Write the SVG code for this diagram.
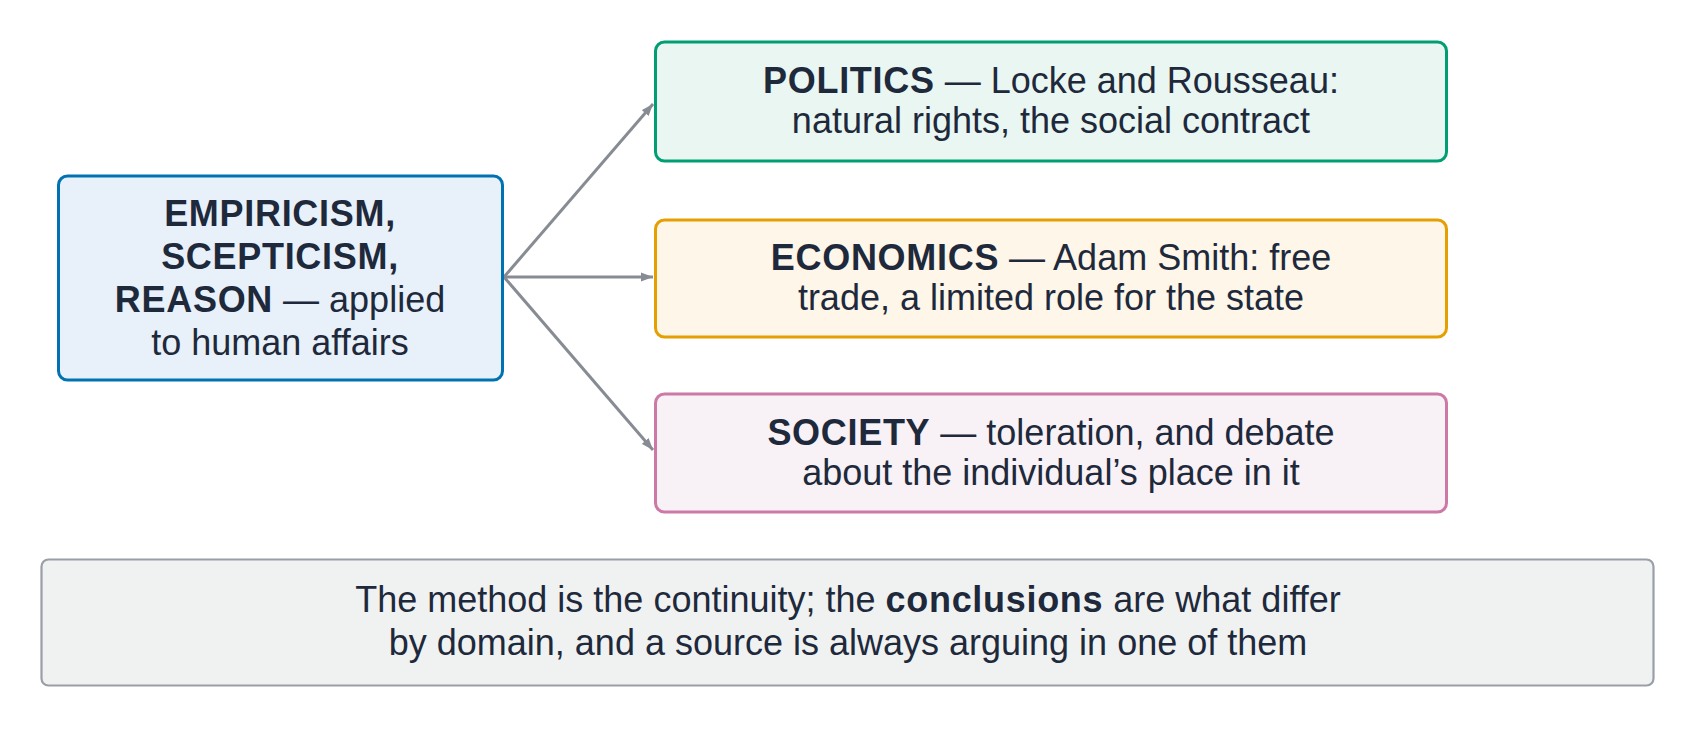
<svg xmlns="http://www.w3.org/2000/svg" width="1696" height="729" viewBox="0 0 1696 729">
<defs>
<style>
text{font-family:"Liberation Sans",Arial,sans-serif;font-size:36px;fill:#1e293b;text-anchor:middle}
.b{font-weight:bold;letter-spacing:0.7px}
.box{stroke-width:3}
.conn line{stroke:#878b93;stroke-width:3;fill:none}
</style>
<marker id="ah" viewBox="0 0 12 10" refX="12" refY="5" markerWidth="12" markerHeight="10" markerUnits="userSpaceOnUse" orient="auto">
<path d="M0,0.5 L12,5 L0,9.5 z" fill="#878b93"/>
</marker>
</defs>
<rect width="1696" height="729" fill="#ffffff"/>
<g id="connectors" class="conn">
<line x1="504" y1="277" x2="653" y2="104" marker-end="url(#ah)"/>
<line x1="504" y1="277" x2="653" y2="277" marker-end="url(#ah)"/>
<line x1="504" y1="277" x2="653" y2="450" marker-end="url(#ah)"/>
</g>
<g id="method">
<rect class="box" x="58.5" y="176" width="444" height="204" rx="9" fill="#e8f1f9" stroke="#0072b2" stroke-width="4"/>
<text x="280" y="226" class="b">EMPIRICISM,</text>
<text x="280" y="269" class="b">SCEPTICISM,</text>
<text x="280" y="312"><tspan class="b">REASON</tspan> — applied</text>
<text x="280" y="355">to human affairs</text>
</g>
<g id="politics">
<rect class="box" x="655.5" y="42" width="791" height="119" rx="9" fill="#eaf6f1" stroke="#009e73"/>
<text x="1051" y="93"><tspan class="b">POLITICS</tspan> — Locke and Rousseau:</text>
<text x="1051" y="133">natural rights, the social contract</text>
</g>
<g id="economics">
<rect class="box" x="655.5" y="220" width="791" height="117" rx="9" fill="#fdf6e9" stroke="#e69f00"/>
<text x="1051" y="270"><tspan class="b">ECONOMICS</tspan> — Adam Smith: free</text>
<text x="1051" y="310">trade, a limited role for the state</text>
</g>
<g id="society">
<rect class="box" x="655.5" y="394" width="791" height="118" rx="9" fill="#f8f1f5" stroke="#cc79a7"/>
<text x="1051" y="445"><tspan class="b">SOCIETY</tspan> — toleration, and debate</text>
<text x="1051" y="485">about the individual’s place in it</text>
</g>
<g id="note">
<rect x="41.5" y="559.5" width="1612" height="126" rx="7" fill="#f0f2f2" stroke="#9a9ea6" stroke-width="2.2"/>
<text x="848" y="612">The method is the continuity; the <tspan class="b">conclusions</tspan> are what differ</text>
<text x="848" y="655">by domain, and a source is always arguing in one of them</text>
</g>
</svg>
